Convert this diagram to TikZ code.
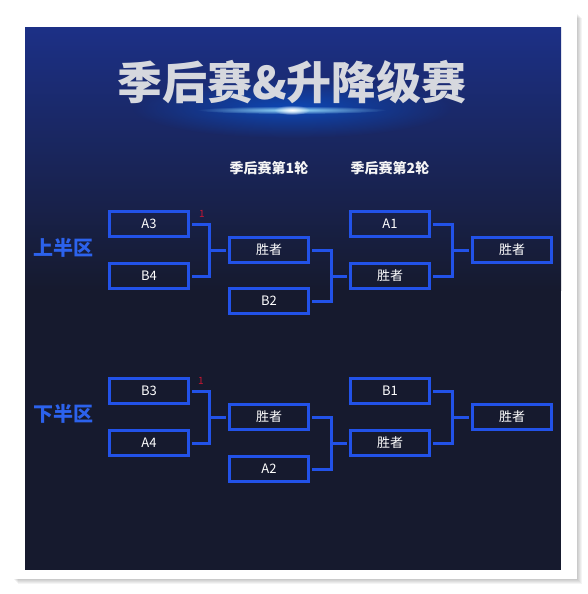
\documentclass[tikz,border=0pt]{standalone}
\usepackage{fontspec}
\setmainfont{Noto Sans CJK SC}
\usepackage{tikz}
\usetikzlibrary{fadings}
\definecolor{linkblue}{RGB}{34,82,232}
\definecolor{zoneblue}{RGB}{44,98,236}
\definecolor{bgtop}{RGB}{28,48,134}
\definecolor{bgmid}{RGB}{26,38,96}
\definecolor{bgbot}{RGB}{22,26,46}
\definecolor{titlegray}{RGB}{214,216,222}
\definecolor{markred}{RGB}{200,22,50}
\tikzfading[name=glowfade,inner color=transparent!0,outer color=transparent!100]

\begin{document}
\begin{tikzpicture}
	[x=1pt,y=-1pt,
	 box/.style={draw=linkblue,line width=3pt,minimum width=79pt,minimum height=25pt,
	   inner sep=0pt,text=white,font=\fontsize{13}{13}\selectfont},
	 link/.style={draw=linkblue,line width=3pt,shorten <=2pt,shorten >=2pt},
	 head/.style={text=white!92!gray,font=\fontsize{14}{14}\selectfont\bfseries},
	 zone/.style={text=zoneblue,font=\fontsize{20}{20}\selectfont\bfseries},
	 seedmark/.style={text=markred,font=\fontsize{10}{10}\selectfont}]
\useasboundingbox (0,0) rectangle (588,594);
% white frame with soft shadow
\fill[white] (0,0) rectangle (588,594);
\foreach \s in {1,...,6}
\fill[black,opacity=0.045] (12+\s,12+\s) rectangle (576+\s,578+\s);
\fill[white] (11,11) rectangle (577,579);
% dark panel
\fill[bgbot] (25,28) rectangle (561,570);
\shade[top color=bgtop,middle color=bgmid,bottom color=bgbot] (25,28) rectangle (561,290);
% glow under the title
\fill[blue!60!cyan,opacity=0.5,path fading=glowfade] (292,108) ellipse (160 and 30);
\fill[cyan!40!white,path fading=glowfade] (292,110) ellipse (95 and 4);
\fill[white,path fading=glowfade] (292,110) ellipse (18 and 5);
\node[text=titlegray,font=\fontsize{45}{45}\selectfont\bfseries] (title) at (292,82) {季后赛\&升降级赛};
% round headers
\node[head] (r1) at (269,168) {季后赛第1轮};
\node[head] (r2) at (390,168) {季后赛第2轮};
\node[zone] (up) at (63,248) {上半区};
\node[zone] (down) at (63,414) {下半区};
% upper half
\node[box] (a3) at (149,224) {A3};
\node[box] (b4) at (149,276) {B4};
\node[box] (w1) at (269,250) {胜者};
\node[box] (b2) at (269,301) {B2};
\node[box] (a1) at (390,224) {A1};
\node[box] (w2) at (390,276) {胜者};
\node[box] (w3) at (512,250) {胜者};
\node[seedmark] (m1) at (202,214) {1};
% lower half
\node[box] (b3) at (149,391) {B3};
\node[box] (a4) at (149,443) {A4};
\node[box] (w4) at (269,417) {胜者};
\node[box] (a2) at (269,469) {A2};
\node[box] (b1) at (390,391) {B1};
\node[box] (w5) at (390,443) {胜者};
\node[box] (w6) at (512,417) {胜者};
\node[seedmark] (m2) at (201,381) {1};
% brackets
\coordinate (j1) at (209,250);
\coordinate (j2) at (331,276);
\coordinate (j3) at (452,250);
\coordinate (j4) at (209,417);
\coordinate (j5) at (331,443);
\coordinate (j6) at (452,417);
\foreach \p/\q/\j/\w in {a3/b4/j1/w1,w1/b2/j2/w2,a1/w2/j3/w3,b3/a4/j4/w4,w4/a2/j5/w5,b1/w5/j6/w6}
{\draw[link] (\p.east) -| (\j) |- (\q.east);
 \draw[link,shorten <=0pt] (\j) -- (\w.west);}
\end{tikzpicture}
\end{document}
